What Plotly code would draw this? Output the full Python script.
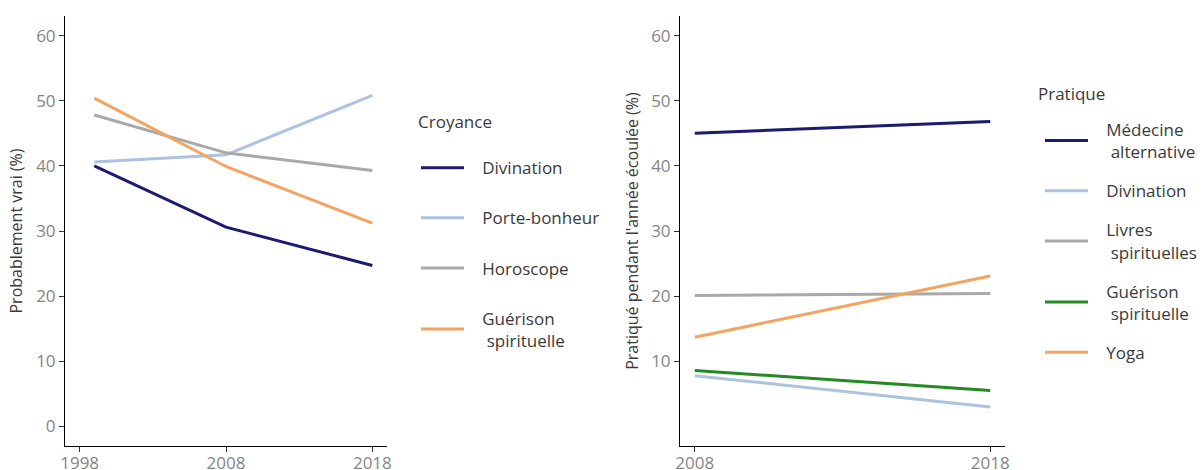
import plotly.graph_objects as go

# Left panel: beliefs
years_left = [1999, 2008, 2018]
croyance_names = ["Divination", "Porte-bonheur", "Horoscope", "Guérison<br> spirituelle"]
divination_c = [40.0, 30.6, 24.7]
porte_bonheur = [40.6, 41.7, 50.8]
horoscope = [47.8, 42.0, 39.3]
guerison_c = [50.4, 39.9, 31.2]

# Right panel: practices
years_right = [2008, 2018]
pratique_names = ["Médecine<br> alternative", "Divination", "Livres<br> spirituelles",
                  "Guérison<br> spirituelle", "Yoga"]
medecine = [45.0, 46.8]
divination_p = [7.8, 3.0]
livres = [20.1, 20.4]
guerison_p = [8.6, 5.5]
yoga = [13.7, 23.1]

NAVY = "#1b1b6f"
LIGHTBLUE = "#adc2df"
GREY = "#a9a9a9"
ORANGE = "#f4a460"
GREEN = "#228b22"

FONT = "Open Sans"
W, H = 1202, 470


def px_x(v):
    return v / W


def px_y(v):
    return 1 - v / H


def pad(label):
    nb = "\u00a0"
    parts = label.split("<br>")
    out = [nb * 3 + parts[0]] + [nb * 3 + p.replace(" ", nb) for p in parts[1:]]
    return "<br>".join(out)


fig = go.Figure()

left_series = [divination_c, porte_bonheur, horoscope, guerison_c]
left_colors = [NAVY, LIGHTBLUE, GREY, ORANGE]
for i, (name, vals, col) in enumerate(zip(croyance_names, left_series, left_colors)):
    fig.add_trace(go.Scatter(x=years_left, y=vals, mode="lines", name=pad(name),
                             line=dict(color=col, width=3), xaxis="x", yaxis="y",
                             legend="legend", legendgroup="l%d" % i))

right_series = [medecine, divination_p, livres, guerison_p, yoga]
right_colors = [NAVY, LIGHTBLUE, GREY, GREEN, ORANGE]
for i, (name, vals, col) in enumerate(zip(pratique_names, right_series, right_colors)):
    fig.add_trace(go.Scatter(x=years_right, y=vals, mode="lines", name=pad(name),
                             line=dict(color=col, width=3), xaxis="x2", yaxis="y2",
                             legend="legend2", legendgroup="r%d" % i))

tickfont = dict(family=FONT, size=17, color="#858585")
titlefont = dict(family=FONT, size=16, color="#3a3a3a")
legfont = dict(family=FONT, size=17, color="#3a3a3a")
common_axis = dict(showline=True, linecolor="black", linewidth=1, ticks="outside",
                   ticklen=5, tickcolor="#333333", showgrid=False, zeroline=False,
                   tickfont=tickfont, automargin=False)

ydom = [px_y(446), px_y(16)]
fig.update_layout(
    width=W, height=H,
    margin=dict(l=0, r=0, t=0, b=0),
    plot_bgcolor="white", paper_bgcolor="white",
    font=dict(family=FONT),
    xaxis=dict(domain=[px_x(65), px_x(387)], range=[1997, 2019],
               tickvals=[1998, 2008, 2018], ticklabelstandoff=-3, **common_axis),
    yaxis=dict(domain=ydom, range=[-3, 63], tickvals=[0, 10, 20, 30, 40, 50, 60],
               title=dict(text="Probablement vrai (%)", font=titlefont, standoff=9),
               **common_axis),
    xaxis2=dict(domain=[px_x(680), px_x(1005)], range=[2007.5, 2018.5],
                tickvals=[2008, 2018], anchor="y2", ticklabelstandoff=-3, **common_axis),
    yaxis2=dict(domain=ydom, range=[-3, 63], tickvals=[10, 20, 30, 40, 50, 60],
                anchor="x2",
                title=dict(text="Pratiqué pendant l'année écoulée (%)", font=titlefont, standoff=8),
                **common_axis),
    legend=dict(x=px_x(416), y=px_y(106), xanchor="left", yanchor="top",
                title=dict(text="Croyance<br>\u00a0", font=legfont),
                font=legfont, itemwidth=43,
                tracegroupgap=25, traceorder="grouped", bgcolor="rgba(0,0,0,0)"),
    legend2=dict(x=px_x(1040), y=px_y(112), xanchor="left", yanchor="top",
                 font=legfont, itemwidth=43,
                 tracegroupgap=14, traceorder="grouped", bgcolor="rgba(0,0,0,0)"),
    annotations=[dict(text="Pratique", x=px_x(1036), y=px_y(93), xref="paper", yref="paper",
                      xanchor="left", yanchor="middle", showarrow=False, font=legfont)],
)

fig.write_html("out.html", config={"displayModeBar": False},
               post_script="document.body.style.margin='0';document.body.style.overflow='hidden';")
